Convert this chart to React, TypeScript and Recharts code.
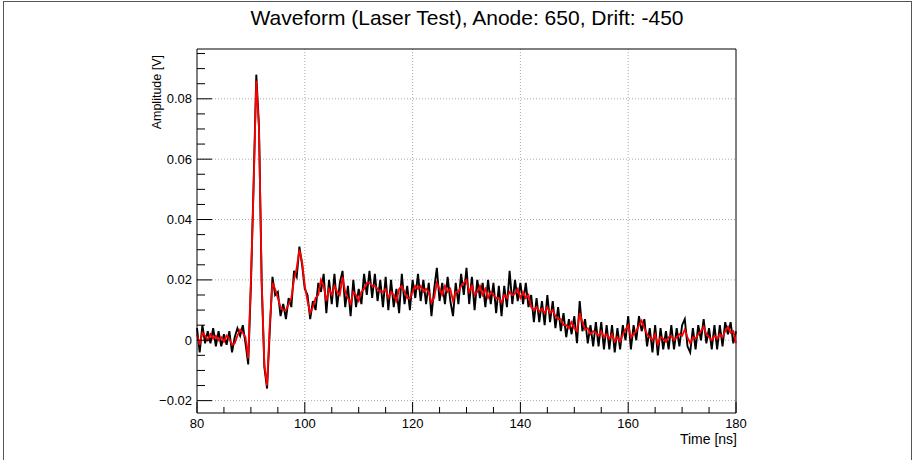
import { LineChart, Line, XAxis, YAxis, ReferenceLine } from "recharts"

// samples every 0.5 ns starting at 80 ns, amplitudes in mV
const T0 = 80
const DT = 0.5

const rawMv = [
  4, -4, 5, -1, 3, -1, 4, -2, 3, -2,
  2, -1.5, 3, -4, 1, 4, 1.5, 5, -1, -8,
  18, 52, 88, 71, 19, -9, -16, 3, 21, 15,
  16, 8, 12, 7, 14, 11, 23, 21, 31, 25,
  17, 15, 7, 13, 10, 19, 16, 22, 9, 20,
  12, 22, 11, 19, 23, 11, 18, 8, 20, 11,
  17, 12, 22, 15, 23, 14, 22, 13, 20, 11,
  21, 10, 20, 11, 17, 9, 22, 12, 18, 10,
  20, 14, 22, 13, 20, 12, 19, 8, 17, 24,
  13, 19, 12, 21, 13, 8, 19, 12, 22, 15,
  24, 12, 21, 10, 20, 14, 19, 11, 20, 12,
  19, 9, 18, 8, 18, 11, 23, 12, 20, 13,
  19, 12, 19, 11, 15, 6, 14, 6, 13, 5,
  15, 6, 13, 4, 11, 3, 9, 1, 7, 2,
  8, -1, 13, 3, 7, -1, 5, -2, 6, -2,
  6, -3, 5, -3, 5, -4, 4, -3, 5, 0,
  8, -3, 5, 0, 8, 3, 7, -2, 4, -4,
  5, -5, 4, -3, 3, -3, 5, -3, 4, -2,
  5, 7, -2, -4, 4, -3, 5, 0, 7, -1,
  4, -3, 5, -3, 5, -2, 6, 2, 6, -1,
  3,
]

const smoothMv = [
  2, -1.5, 2.5, 1.5, 0, 2, 0.5, 1.5, 0, 1,
  -0.5, 1.5, 0.5, -1.5, -1, 1.5, 3.5, 2.5, 1, -6,
  20, 50, 86, 70, 20, -8, -15, 5, 19, 17,
  14, 11, 10, 10, 12, 14, 20, 24, 30, 26,
  18, 13, 9, 11, 14, 15, 20, 18, 13, 17,
  15, 18, 16, 15, 21, 16, 14, 12, 16, 15,
  13, 16, 17, 19, 19, 18, 18, 17, 16, 16,
  17, 14, 16, 15, 13, 17, 18, 16, 14, 14,
  16, 18, 17, 18, 16, 17, 16, 12.5, 14, 19,
  17, 15, 18, 16, 17, 13, 16, 16, 18, 19,
  20, 16, 18, 15, 16, 18, 15, 17, 14, 16,
  15, 14, 14, 12.5, 15, 14, 16, 15, 15.5, 17,
  14, 16, 14, 15, 11, 10, 11, 9.5, 10.5, 9,
  11, 9, 10, 8, 7, 7, 5, 5, 4, 6,
  4, 3, 9, 6, 3.5, 4, 2, 3, 2.5, 1.5,
  3, 1, 2, 0.5, 2, -0.5, 1, -0.5, 2, 3.5,
  5, 1, 2, 3, 5, 6.5, 4, 2, 1, 0,
  2, -1.5, 1, 0.5, -0.5, 1, 1.5, 0, 1, 2,
  1.5, 3.5, 1, -1, 1, 0.5, 2, 3, 4.5, 2,
  1, 0, 1.5, 0.5, 2, 1, 3, 4.5, 2.5, 3,
  -1,
]

const xMajor = [80, 100, 120, 140, 160, 180]
const xMinor = [85, 90, 95, 105, 110, 115, 125, 130, 135, 145, 150, 155, 165, 170, 175]
const yMajor = [-20, 0, 20, 40, 60, 80]
const yMinor = [-15, -10, -5, 5, 10, 15, 25, 30, 35, 45, 50, 55, 65, 70, 75, 85, 90, 95]

const W = 915
const H = 460
const LEFT = 197
const RIGHT = 736
const TOP = 49
const BOTTOM = 413
const Y_MIN = -24.1
const Y_MAX = 96.5
const FONT = "'Liberation Sans', Arial, sans-serif"

const rows = rawMv.map((v, i) => ({ t: T0 + i * DT, raw: v, smooth: smoothMv[i] }))

function XTick(props: any) {
  const { x, payload } = props
  const major = xMajor.includes(payload.value)
  return (
    <g>
      <line x1={x} x2={x} y1={BOTTOM} y2={BOTTOM - (major ? 11 : 6)} stroke="#000" />
      {major && (
        <text x={x} y={428} textAnchor="middle" fontSize={13} fill="#000" fontFamily={FONT}>
          {payload.value}
        </text>
      )}
    </g>
  )
}

function YTick(props: any) {
  const { y, payload } = props
  const major = yMajor.includes(payload.value)
  const label = payload.value === 0 ? "0" : (payload.value < 0 ? "\u2212" : "") + (Math.abs(payload.value) / 1000).toFixed(2)
  return (
    <g>
      <line x1={LEFT} x2={LEFT + (major ? 15 : 8)} y1={y} y2={y} stroke="#000" />
      {major && (
        <text x={192} y={y + 4.5} textAnchor="end" fontSize={13} fill="#000" fontFamily={FONT}>
          {label}
        </text>
      )}
    </g>
  )
}

export default function App() {
  return (
    <div style={{ position: "absolute", left: 0, top: 0, width: W, height: H, background: "#fff", overflow: "hidden" }}>
      <div style={{ position: "absolute", left: 3, top: 1, width: 909, height: 470, border: "1px solid #555", boxSizing: "border-box" }} />
      <LineChart
        width={W}
        height={H}
        data={rows}
        margin={{ top: TOP, right: W - RIGHT, bottom: H - BOTTOM - 30, left: LEFT - 60 }}
      >
        {xMajor.slice(1, -1).map((v) => (
          <ReferenceLine key={"gx" + v} x={v} stroke="#aaa" strokeDasharray="1 2" />
        ))}
        {yMajor.map((v) => (
          <ReferenceLine key={"gy" + v} y={v} stroke="#aaa" strokeDasharray="1 2" />
        ))}
        <ReferenceLine y={Y_MAX} stroke="#000" />
        <ReferenceLine x={180} stroke="#000" />
        <XAxis
          dataKey="t"
          type="number"
          domain={[80, 180]}
          ticks={[...xMajor, ...xMinor].sort((a, b) => a - b)}
          interval={0}
          height={30}
          axisLine={{ stroke: "#000" }}
          tickLine={false}
          tick={<XTick />}
        />
        <YAxis
          type="number"
          domain={[Y_MIN, Y_MAX]}
          allowDataOverflow
          ticks={[...yMajor, ...yMinor].sort((a, b) => a - b)}
          interval={0}
          width={60}
          axisLine={{ stroke: "#000" }}
          tickLine={false}
          tick={<YTick />}
        />
        <Line dataKey="raw" stroke="#000" strokeWidth={1.9} dot={false} isAnimationActive={false} />
        <Line dataKey="smooth" stroke="#ff0000" strokeWidth={1.8} dot={false} isAnimationActive={false} />
      </LineChart>
      <svg width={W} height={H} style={{ position: "absolute", left: 0, top: 0, pointerEvents: "none" }}>
        <text x={467} y={25} textAnchor="middle" fontSize={21} fill="#000" fontFamily={FONT}>
          Waveform (Laser Test), Anode: 650, Drift: -450
        </text>
        <text
          transform="translate(161, 55) rotate(-90)"
          textAnchor="end"
          fontSize={12.5}
          fill="#000"
          fontFamily={FONT}
        >
          Amplitude [V]
        </text>
        <text x={737} y={444} textAnchor="end" fontSize={14} fill="#000" fontFamily={FONT}>
          Time [ns]
        </text>
      </svg>
    </div>
  )
}
